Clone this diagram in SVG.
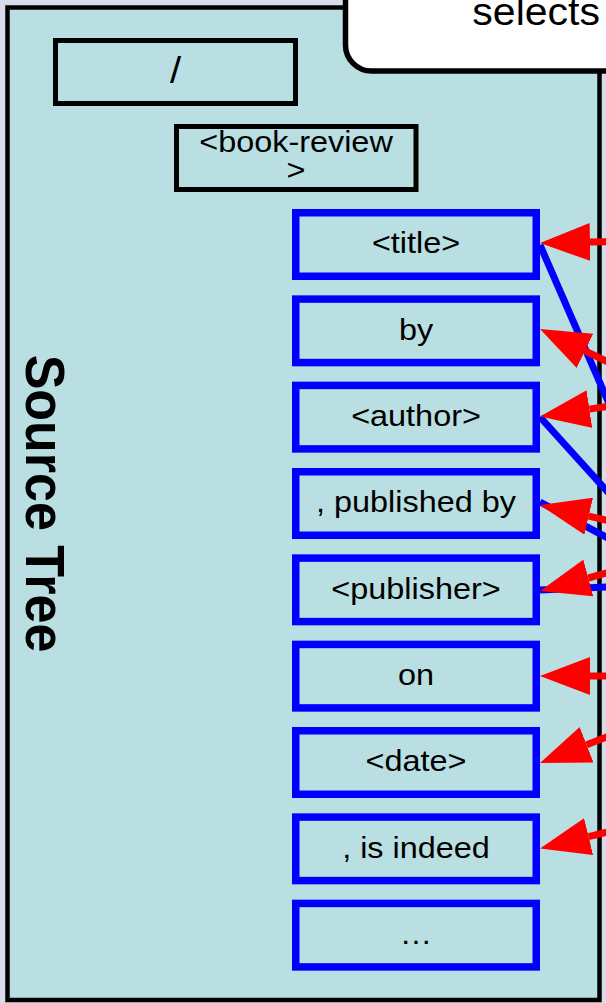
<svg xmlns="http://www.w3.org/2000/svg" width="606" height="1003" viewBox="0 0 606 1003">
  <defs>
    <style>
      .bg { fill: #d7dbeb; }
      .panel { fill: #b9dfe2; stroke: #000; stroke-width: 4.5; }
      .callout { fill: #fff; stroke: #000; stroke-width: 5.5; }
      .elem { fill: none; stroke: #000; stroke-width: 5; }
      .sel { fill: none; stroke: #0000ff; stroke-width: 7.5; }
      .lbl { font-family: "Liberation Sans", Arial, sans-serif; font-size: 30px; fill: #000; text-anchor: middle; }
      .title { font-family: "Liberation Sans", Arial, sans-serif; font-size: 52px; font-weight: bold; fill: #000; text-anchor: middle; }
      .note { font-family: "Liberation Sans", Arial, sans-serif; font-size: 38px; fill: #000; text-anchor: end; }
      .link { fill: none; stroke: #0000ff; stroke-width: 7; }
      .ptr { fill: none; stroke: #ff0000; stroke-width: 7; marker-end: url(#head); }
    </style>
    <marker id="head" markerUnits="userSpaceOnUse" markerWidth="50" markerHeight="38" viewBox="0 0 50 38" refX="0" refY="19" orient="auto">
      <path d="M0,0 L50,19 L0,38 z" fill="#ff0000"/>
    </marker>
  </defs>

  <rect class="bg" x="0" y="0" width="606" height="1003"/>

  <!-- source tree panel -->
  <g id="source-tree">
    <rect class="panel" x="7.5" y="7.5" width="592" height="992.5"/>
    <text class="title" transform="translate(25.5,503.5) scale(1.08,1) rotate(90)">Source Tree</text>
  </g>

  <!-- tree nodes -->
  <g id="node-root">
    <rect class="elem" x="55.5" y="40.5" width="240" height="63"/>
    <text class="lbl" style="font-size:37px" transform="matrix(1.08 0 0 1 175.5 0)" x="0" y="83">/</text>
  </g>
  <g id="node-book-review">
    <rect class="elem" x="176.5" y="126.5" width="239.5" height="63"/>
    <text class="lbl" transform="matrix(1.08 0 0 1 296 0)" x="0" y="152">&lt;book-review</text>
    <text class="lbl" transform="matrix(1.08 0 0 1 296 0)" x="0" y="180">&gt;</text>
  </g>
  <g id="node-title">
    <rect class="sel" x="295.75" y="212.75" width="240.5" height="63.5"/>
    <text class="lbl" transform="matrix(1.08 0 0 1 416 0)" x="0" y="253.5">&lt;title&gt;</text>
  </g>
  <g id="node-by">
    <rect class="sel" x="295.75" y="299.08" width="240.5" height="63.5"/>
    <text class="lbl" transform="matrix(1.08 0 0 1 416 0)" x="0" y="339.8">by</text>
  </g>
  <g id="node-author">
    <rect class="sel" x="295.75" y="385.42" width="240.5" height="63.5"/>
    <text class="lbl" transform="matrix(1.08 0 0 1 416 0)" x="0" y="426.2">&lt;author&gt;</text>
  </g>
  <g id="node-published-by">
    <rect class="sel" x="295.75" y="471.75" width="240.5" height="63.5"/>
    <text class="lbl" transform="matrix(1.08 0 0 1 416 0)" x="0" y="512.5">, published by</text>
  </g>
  <g id="node-publisher">
    <rect class="sel" x="295.75" y="558.08" width="240.5" height="63.5"/>
    <text class="lbl" transform="matrix(1.08 0 0 1 416 0)" x="0" y="598.8">&lt;publisher&gt;</text>
  </g>
  <g id="node-on">
    <rect class="sel" x="295.75" y="644.42" width="240.5" height="63.5"/>
    <text class="lbl" transform="matrix(1.08 0 0 1 416 0)" x="0" y="685.2">on</text>
  </g>
  <g id="node-date">
    <rect class="sel" x="295.75" y="730.75" width="240.5" height="63.5"/>
    <text class="lbl" transform="matrix(1.08 0 0 1 416 0)" x="0" y="771.5">&lt;date&gt;</text>
  </g>
  <g id="node-is-indeed">
    <rect class="sel" x="295.75" y="817.08" width="240.5" height="63.5"/>
    <text class="lbl" transform="matrix(1.08 0 0 1 416 0)" x="0" y="857.8">, is indeed</text>
  </g>
  <g id="node-more">
    <rect class="sel" x="295.75" y="903.42" width="240.5" height="63.5"/>
    <text class="lbl" transform="matrix(1.08 0 0 1 416 0)" x="0" y="944.2">…</text>
  </g>

  <!-- connectors -->
  <g id="connectors">
    <g id="links">
      <line class="link" x1="540" y1="245" x2="620" y2="429"/>
      <line class="link" x1="540" y1="417" x2="620" y2="505.5"/>
      <line class="link" x1="540" y1="502" x2="620" y2="544.4"/>
      <line class="link" x1="540" y1="590" x2="620" y2="586.4"/>
    </g>
    <g id="pointers">
      <line class="ptr" x1="660" y1="240.6" x2="590" y2="242"/>
      <line class="ptr" x1="660" y1="387.2" x2="585" y2="350.8"/>
      <line class="ptr" x1="660" y1="398.5" x2="589.4" y2="409.1"/>
      <line class="ptr" x1="660" y1="532.6" x2="588.7" y2="516.2"/>
      <line class="ptr" x1="660" y1="558.6" x2="588.3" y2="578"/>
      <line class="ptr" x1="660" y1="676" x2="590" y2="676"/>
      <line class="ptr" x1="660" y1="716.2" x2="586.6" y2="744.8"/>
      <line class="ptr" x1="660" y1="819.1" x2="588.6" y2="836.6"/>
    </g>
  </g>

  <!-- callout -->
  <g id="callout-selects">
    <rect class="callout" x="345.5" y="-40" width="300" height="111" rx="26"/>
    <text class="note" transform="matrix(1.08 0 0 1 600 0)" x="0" y="25">selects</text>
  </g>
</svg>
